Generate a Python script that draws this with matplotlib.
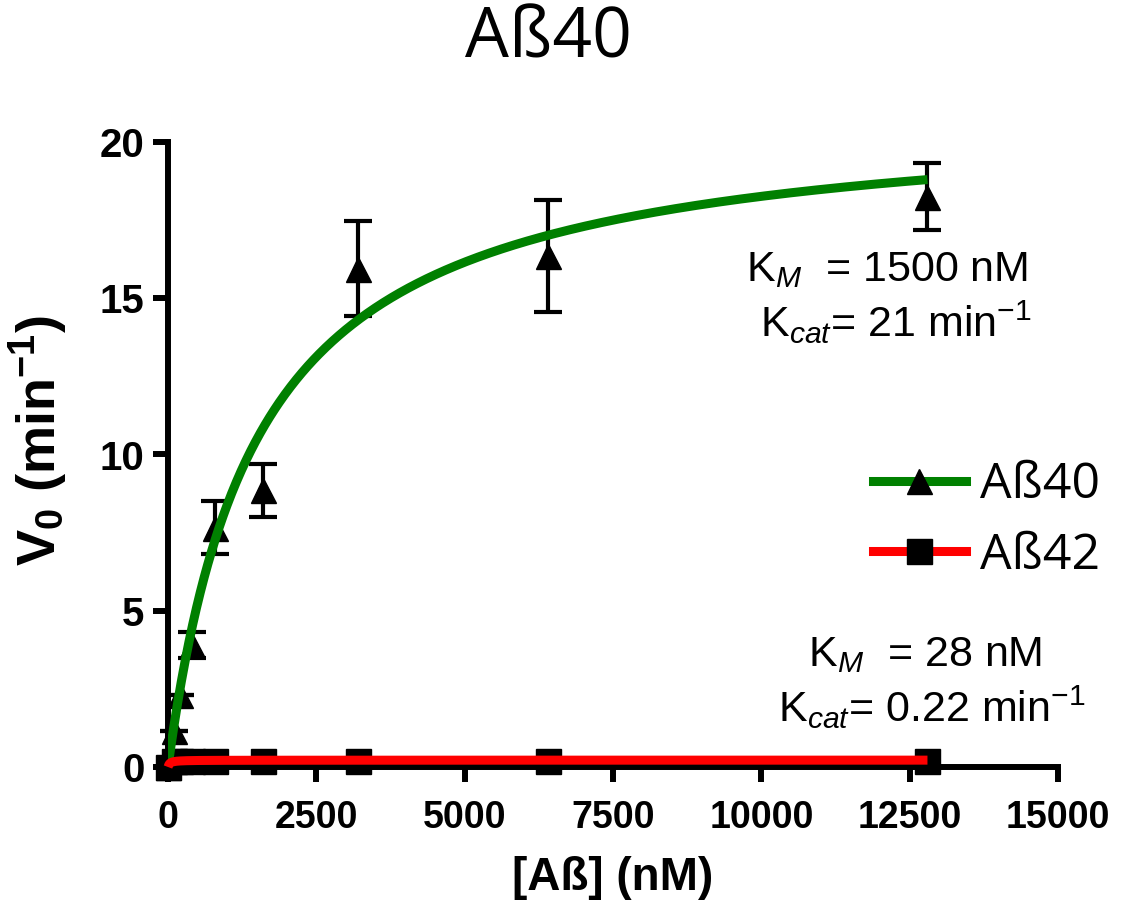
import matplotlib
matplotlib.use("Agg")
import matplotlib.pyplot as plt
import numpy as np
from matplotlib.lines import Line2D

plt.rcParams["font.family"] = ["Liberation Sans", "DejaVu Sans"]
plt.rcParams["mathtext.fontset"] = "custom"
plt.rcParams["mathtext.rm"] = "Liberation Sans"
plt.rcParams["mathtext.it"] = "Liberation Sans:italic"
plt.rcParams["mathtext.bf"] = "Liberation Sans:bold"

# Substrate concentrations (nM)
conc = [0, 100, 200, 400, 800, 1600, 3200, 6400, 12800]

# Initial velocities (min^-1) with SEM
ab40_v = [0.0, 1.15, 2.3, 3.9, 7.65, 8.85, 15.95, 16.35, 18.25]
ab40_err = [0.0, 0.0, 0.0, 0.42, 0.85, 0.85, 1.52, 1.78, 1.07]
ab42_v = [0.0, 0.19, 0.2, 0.2, 0.2, 0.2, 0.2, 0.2, 0.2]
ab42_err = [0.0, 0.05, 0.05, 0.05, 0.05, 0.05, 0.05, 0.05, 0.05]

# Michaelis-Menten fit parameters
ab40_km, ab40_kcat = 1500, 21
ab42_km, ab42_kcat = 28, 0.22

x_ticks = [0, 2500, 5000, 7500, 10000, 12500, 15000]
y_ticks = [0, 5, 10, 15, 20]

W, H = 1124, 913
fig = plt.figure(figsize=(W / 100, H / 100), dpi=100)
ax = fig.add_axes([168 / W, (H - 767) / H, 890 / W, 625 / H])

s = np.linspace(0, max(conc), 800)
fit40 = ab40_kcat * s / (ab40_km + s)
fit42 = ab42_kcat * s / (ab42_km + s)

eb_kw = dict(fmt="none", ecolor="black", elinewidth=3, capsize=10, capthick=3,
             clip_on=False, zorder=3)
ax.errorbar(conc, ab40_v, yerr=ab40_err, **eb_kw)
ax.errorbar(conc, ab42_v, yerr=ab42_err, **eb_kw)
ax.plot(conc, ab40_v, ls="none", marker="^", ms=18, color="black",
        clip_on=False, zorder=4)
ax.plot(conc, ab42_v, ls="none", marker="s", ms=18, color="black",
        clip_on=False, zorder=4)
ax.plot(s, fit40, color="#008000", lw=6.5, solid_capstyle="butt", zorder=5)
ax.plot(s, fit42, color="#ff0000", lw=6.5, solid_capstyle="butt",
        clip_on=False, zorder=5)

ax.set_xlim(0, 15000)
ax.set_ylim(0, 20)
ax.set_xticks(x_ticks)
ax.set_yticks(y_ticks)
for sp in ("top", "right"):
    ax.spines[sp].set_visible(False)
for sp in ("left", "bottom"):
    ax.spines[sp].set_linewidth(4.3)
ax.tick_params(axis="both", direction="out", length=11, width=4.3)
ax.tick_params(axis="y", pad=6)
ax.tick_params(axis="x", pad=13)
for lab in ax.get_yticklabels():
    lab.set_fontsize(29)
    lab.set_fontweight("bold")
for lab in ax.get_xticklabels():
    lab.set_fontsize(27)
    lab.set_fontweight("bold")

ax.set_xlabel("[Aß] (nM)", fontsize=33, fontweight="bold", labelpad=14)
ax.set_ylabel(r"V$_{\mathbf{0}}$ (min$^{\mathbf{-1}}$)", fontsize=39,
              fontweight="bold")
ax.yaxis.set_label_coords(-0.110, 0.522)

fig.text(548 / W, 1 - 40 / H, "Aß40", family=["Open Sans", "DejaVu Sans"],
         fontsize=50, ha="center", va="center")

ann_kw = dict(fontsize=31, ha="center", va="center")
fig.text(887 / W, 1 - 270 / H, r"K$_{M}$  = 1500 nM", **ann_kw)
fig.text(896 / W, 1 - 322 / H, r"K$_{cat}$= 21 min$^{-1}$", **ann_kw)
fig.text(925 / W, 1 - 655 / H, r"K$_{M}$  = 28 nM", **ann_kw)
fig.text(932 / W, 1 - 707 / H, r"K$_{cat}$= 0.22 min$^{-1}$", **ann_kw)

handles = [
    Line2D([], [], color="#008000", lw=6.5, marker="^", ms=18,
           mfc="black", mec="black"),
    Line2D([], [], color="#ff0000", lw=6.5, marker="s", ms=18,
           mfc="black", mec="black"),
]
fig.legend(handles, ["Aß40", "Aß42"], loc="center left",
           bbox_to_anchor=(873 / W, 1 - 521 / H), frameon=False,
           prop={"family": ["Open Sans", "DejaVu Sans"], "size": 36},
           handlelength=1.85, handletextpad=0.3, labelspacing=0.42,
           borderpad=0, borderaxespad=0)

fig.savefig("out.png", dpi=100)
